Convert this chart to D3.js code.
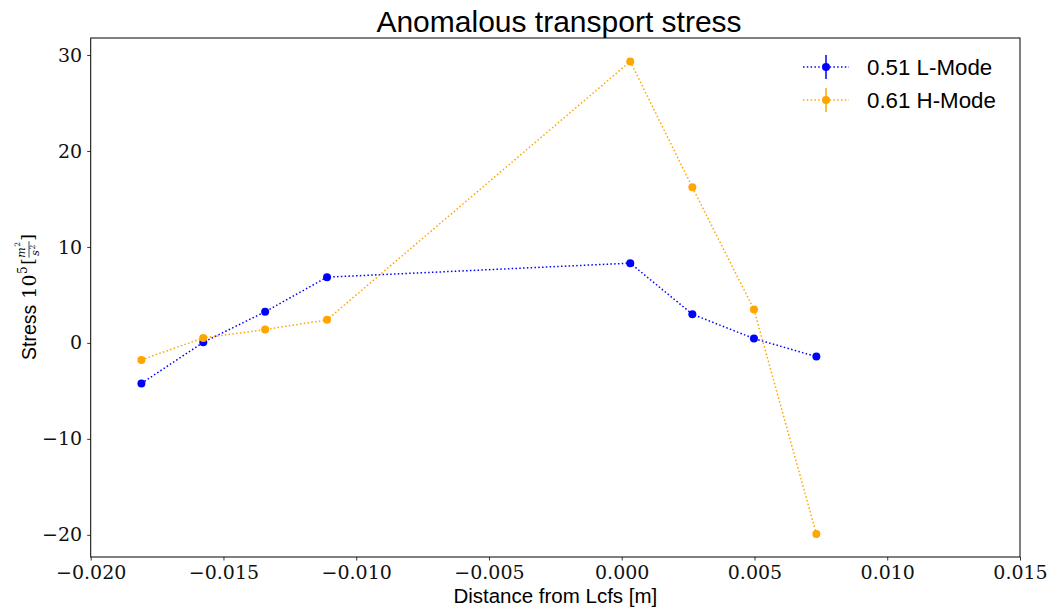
<!DOCTYPE html>
<html>
<head>
<meta charset="utf-8">
<script src="https://cdn.jsdelivr.net/npm/d3@7"></script>
<style>
  html, body { margin: 0; padding: 0; background: #fff; }
  svg { display: block; }
  .tick text { font-family: "DejaVu Serif", "Liberation Serif", serif; }
</style>
</head>
<body>
<svg id="chart" width="1047" height="615"></svg>
<script>
// Radial positions relative to the last closed flux surface [m]
const distance = [-0.01809, -0.01576, -0.01343, -0.01110, 0.00032, 0.00266, 0.00498, 0.00733];
// Anomalous transport stress, units of 1e5 m^2/s^2
const stressLMode = [-4.22, 0.06, 3.24, 6.85, 8.31, 2.99, 0.45, -1.43];
const stressHMode = [-1.77, 0.52, 1.39, 2.40, 29.33, 16.21, 3.48, -19.91];
const seriesNames = ["0.51 L-Mode", "0.61 H-Mode"];
const seriesColors = ["#0000ff", "#ffa500"];
const xTicks = [-0.020, -0.015, -0.010, -0.005, 0.000, 0.005, 0.010, 0.015];
const yTicks = [-20, -10, 0, 10, 20, 30];

const svg = d3.select("#chart");
const plot = { left: 90.7, right: 1020, top: 38, bottom: 557 };
const sans = "'Liberation Sans', Arial, sans-serif";
const serif = "'DejaVu Serif', 'Liberation Serif', serif";

const x = d3.scaleLinear().domain([-0.020, 0.015]).range([plot.left, plot.right]);
const y = d3.scaleLinear().domain([-22.31, 31.77]).range([plot.bottom, plot.top]);

const minus = s => s.replace("-", "\u2212");

// Axes
const xAxis = d3.axisBottom(x).tickValues(xTicks).tickSize(3.5).tickPadding(5)
  .tickFormat(d => minus(d3.format(".3f")(d)));
const yAxis = d3.axisLeft(y).tickValues(yTicks).tickSize(3.5).tickPadding(5)
  .tickFormat(d => minus(String(d)));

const gx = svg.append("g").attr("transform", `translate(0,${plot.bottom})`).call(xAxis);
const gy = svg.append("g").attr("transform", `translate(${plot.left},0)`).call(yAxis);
[gx, gy].forEach(g => {
  g.select(".domain").remove();
  g.selectAll(".tick line").attr("stroke", "#000").attr("stroke-width", 0.8);
  g.selectAll(".tick text").attr("fill", "#111").style("font-size", "19px");
});

// Frame
svg.append("rect")
  .attr("x", plot.left).attr("y", plot.top)
  .attr("width", plot.right - plot.left).attr("height", plot.bottom - plot.top)
  .attr("fill", "none").attr("stroke", "#000").attr("stroke-width", 1);

// Series
const series = [stressLMode, stressHMode];
const line = d3.line().x(d => x(d[0])).y(d => y(d[1]));
series.forEach((vals, i) => {
  const pts = distance.map((d, k) => [d, vals[k]]);
  svg.append("path")
    .datum(pts)
    .attr("d", line)
    .attr("fill", "none")
    .attr("stroke", seriesColors[i])
    .attr("stroke-width", 1.5)
    .attr("stroke-dasharray", "1.5,2.3");
  svg.append("g").selectAll("circle").data(pts).join("circle")
    .attr("cx", d => x(d[0])).attr("cy", d => y(d[1]))
    .attr("r", 4).attr("fill", seriesColors[i]);
});

// Title
svg.append("text")
  .attr("x", 559).attr("y", 32)
  .attr("text-anchor", "middle")
  .style("font-family", sans)
  .style("font-size", "30px")
  .text("Anomalous transport stress");

// X label
svg.append("text")
  .attr("x", (plot.left + plot.right) / 2).attr("y", 603)
  .attr("text-anchor", "middle")
  .style("font-family", sans)
  .style("font-size", "20.5px")
  .text("Distance from Lcfs [m]");

// Y label: "Stress 10^5 [m^2 / s^2]" with a stacked fraction, laid out along the rotated baseline
const yl = svg.append("g");
let cursor = 0;
function piece(txt, font, size, dx, dy, style) {
  const t = yl.append("text")
    .attr("x", cursor + dx).attr("y", dy)
    .style("font-family", font).style("font-size", size + "px")
    .style("font-style", style || "normal")
    .text(txt);
  return t;
}
function advance(t, extra) { cursor += t.node().getComputedTextLength() + (extra || 0); }

advance(piece("Stress", sans, 19.5, 0, 0), 6);
advance(piece("10", serif, 19, 0, 0), 0.5);
advance(piece("5", serif, 12, 0, -9), 1.5);
advance(piece("[", serif, 17, 0, -2), 0.5);
// fraction m^2 over s^2
const fracStart = cursor;
const num = piece("m", serif, 11, 0, -11, "italic");
const numW = num.node().getComputedTextLength();
const numSup = yl.append("text").attr("x", fracStart + numW + 0.5).attr("y", -16)
  .style("font-family", serif).style("font-size", "7.5px").text("2");
const den = piece("s", serif, 11, 2, 3, "italic");
const denW = den.node().getComputedTextLength();
yl.append("text").attr("x", fracStart + 2 + denW + 0.5).attr("y", -1)
  .style("font-family", serif).style("font-size", "7.5px").text("2");
const fracW = numW + 6;
yl.append("line").attr("x1", fracStart).attr("x2", fracStart + fracW)
  .attr("y1", -7).attr("y2", -7).attr("stroke", "#000").attr("stroke-width", 0.7);
cursor = fracStart + fracW + 0.5;
advance(piece("]", serif, 17, 0, -2), 0);
const totalLen = cursor;
yl.attr("transform", `translate(36,${297 + totalLen / 2}) rotate(-90)`);

// Legend
const legend = svg.append("g");
seriesNames.forEach((name, i) => {
  const ly = 67 + i * 33;
  legend.append("line")
    .attr("x1", 803).attr("x2", 849).attr("y1", ly).attr("y2", ly)
    .attr("stroke", seriesColors[i]).attr("stroke-width", 1.5)
    .attr("stroke-dasharray", "1.5,2.3");
  legend.append("line")
    .attr("x1", 826).attr("x2", 826).attr("y1", ly - 12).attr("y2", ly + 12)
    .attr("stroke", seriesColors[i]).attr("stroke-width", 1.5);
  legend.append("circle").attr("cx", 826).attr("cy", ly).attr("r", 4).attr("fill", seriesColors[i]);
  legend.append("text")
    .attr("x", 867).attr("y", ly + 7.5)
    .style("font-family", sans)
    .style("font-size", "22.3px")
    .text(name);
});
</script>
</body>
</html>
